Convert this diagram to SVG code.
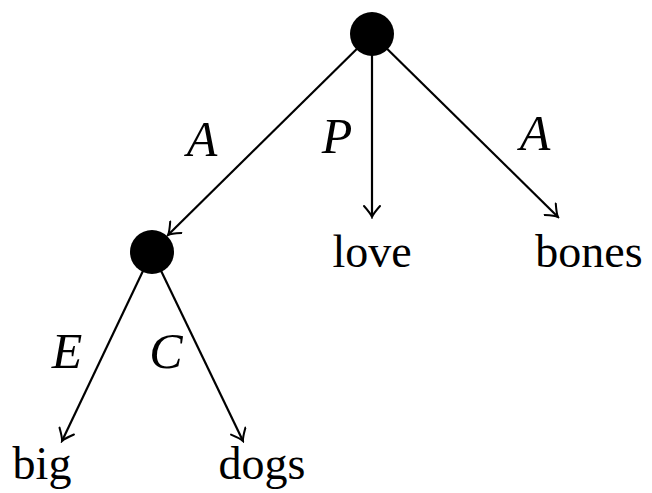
<svg xmlns="http://www.w3.org/2000/svg" width="652" height="493" viewBox="0 0 652 493">
<style>
.edge{stroke:#000;stroke-width:2.2;fill:none;marker-end:url(#arr)}
.node{fill:#000}
.word{font-family:"Liberation Serif","Times New Roman",serif;font-size:46px;fill:#000;text-anchor:middle}
.lab{font-family:"Liberation Serif","Times New Roman",serif;font-size:50px;font-style:italic;fill:#000;text-anchor:middle}
</style>
<defs>
<marker id="arr" viewBox="-13 -9 15 18" markerWidth="15" markerHeight="18" refX="0" refY="0" orient="auto" markerUnits="userSpaceOnUse">
<path d="M-11,-8 Q-3,-1 0,0 Q-3,1 -11,8" fill="none" stroke="#000" stroke-width="2" stroke-linecap="round"/>
</marker>
</defs>
<rect width="652" height="493" fill="#fff"/>
<g id="connectors">
<line class="edge" x1="372" y1="34" x2="168" y2="235"/>
<line class="edge" x1="372" y1="34" x2="372" y2="217"/>
<line class="edge" x1="372" y1="34" x2="558" y2="217"/>
<line class="edge" x1="152" y1="252" x2="62" y2="441"/>
<line class="edge" x1="152" y1="252" x2="243" y2="441"/>
</g>
<g id="root"><circle class="node" cx="372" cy="34" r="22"/></g>
<g id="np"><circle class="node" cx="152" cy="252" r="22"/></g>
<g id="love"><text class="word" x="372" y="267">love</text></g>
<g id="bones"><text class="word" x="589" y="267">bones</text></g>
<g id="big"><text class="word" x="42" y="479">big</text></g>
<g id="dogs"><text class="word" x="262" y="479">dogs</text></g>
<g id="labels">
<text class="lab" x="202" y="156">A</text>
<text class="lab" x="337" y="153">P</text>
<text class="lab" x="535" y="150">A</text>
<text class="lab" x="67" y="368">E</text>
<text class="lab" x="166" y="368">C</text>
</g>
</svg>
